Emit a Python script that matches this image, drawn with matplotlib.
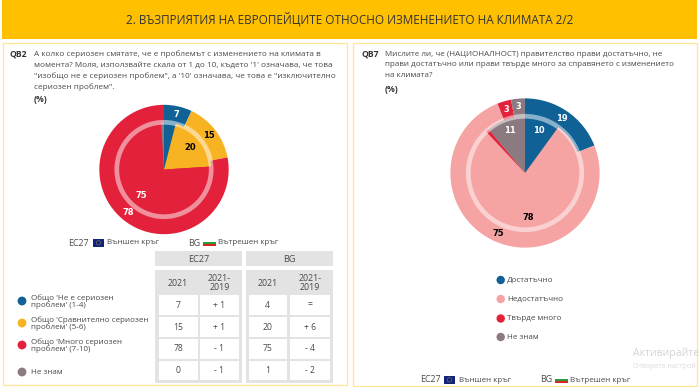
import matplotlib
matplotlib.use('Agg')
import matplotlib.pyplot as plt
from matplotlib.patches import Rectangle, Circle

plt.rcParams['font.family'] = ['Open Sans', 'DejaVu Sans']

W, H = 700, 387
BLUE, YELLOW, RED, GREY, PINK = '#0F6196', '#F8B323', '#E3213B', '#8B7B80', '#F5A3A3'
TEXT = '#4A4A4A'

# QB2 data
qb2_colors = [BLUE, YELLOW, RED, GREY]
qb2_outer = [7, 15, 78, 0]
qb2_inner = [4, 20, 75, 1]
qb2_outer_text = ['white', 'black', 'white', 'white']
qb2_inner_text = ['white', 'black', 'white', 'white']

# QB7 data
qb7_colors = [BLUE, PINK, RED, GREY]
qb7_outer = [19, 75, 3, 3]
qb7_inner = [10, 78, 1, 11]
qb7_outer_text = ['white', 'black', 'white', 'white']
qb7_inner_text = ['white', 'black', 'white', 'white']

# table
table_groups = ['EC27', 'BG']
table_headers = ['2021', '2021-\n2019']
ec_2021 = ['7', '15', '78', '0']
ec_diff = ['+ 1', '+ 1', '- 1', '- 1']
bg_2021 = ['4', '20', '75', '1']
bg_diff = ['=', '+ 6', '- 4', '- 2']

title = '2. ВЪЗПРИЯТИЯ НА ЕВРОПЕЙЦИТЕ ОТНОСНО ИЗМЕНЕНИЕТО НА КЛИМАТА 2/2'
qb2_lines = ['А колко сериозен смятате, че е проблемът с изменението на климата в',
             'момента? Моля, използвайте скала от 1 до 10, където \'1\' означава, че това',
             '"изобщо не е сериозен проблем", а \'10\' означава, че това е "изключително',
             'сериозен проблем".']
qb7_lines = ['Мислите ли, че (НАЦИОНАЛНОСТ) правителство прави достатъчно, не',
             'прави достатъчно или прави твърде много за справянето с изменението',
             'на климата?']
qb2_legend = ["Общо 'Не е сериозен\nпроблем' (1-4)", "Общо 'Сравнително сериозен\nпроблем' (5-6)",
              "Общо 'Много сериозен\nпроблем' (7-10)", 'Не знам']
qb7_legend = ['Достатъчно', 'Недостатъчно', 'Твърде много', 'Не знам']

fig = plt.figure(figsize=(W / 100, H / 100), dpi=100, facecolor='white')
page = fig.add_axes([0, 0, 1, 1])  # pixel coordinates, y goes down
page.set_xlim(0, W)
page.set_ylim(H, 0)
page.axis('off')


def box(x0, y0, x1, y1, **kw):
    page.add_patch(Rectangle((x0, y0), x1 - x0, y1 - y0, **kw))


def label(x, y, s, size=6, color=TEXT, ha='left', **kw):
    page.text(x, y, s, fontsize=size, color=color, ha=ha, va='center', **kw)


def nested_pie(cx, cy, R, outer, inner, colors, outer_text, inner_text, r_in, d_out, d_in, ring_w):
    ax = fig.add_axes([(cx - R) / W, 1 - (cy + R) / H, 2 * R / W, 2 * R / H])
    fmt = lambda p: f'{p:.0f}' if p >= 3 and p != 4 else ''
    for vals, rad, dist, tcol in ((outer, 1, d_out, outer_text), (inner, r_in, d_in, inner_text)):
        wedges, _, auto = ax.pie(vals, radius=rad, colors=colors, startangle=90, counterclock=False,
                                 autopct=fmt, pctdistance=dist, frame=True)
        for a, c in zip(auto, tcol):
            a.set_color(c)
            a.set_fontsize(6)
            a.set_fontweight('bold')
            a.set_family('DejaVu Sans')
    ax.set_xlim(-1.005, 1.005)
    ax.set_ylim(-1.005, 1.005)
    ax.axis('off')
    ax.add_patch(Circle((0, 0), r_in, fill=False, ec=(1, 1, 1, 0.5), lw=ring_w))


def flags(y, x_lab, x_eu, x_in, x_bg, x_flag, x_bg_text):
    label(x_lab, y, 'EC27', size=6.4)
    box(x_eu, y - 4, x_eu + 11, y + 3.5, fc='#12237A', ec='none')
    page.add_patch(Circle((x_eu + 5.5, y - 0.2), 2.2, fill=False, ec='#7F7F50', lw=0.4))  # stars
    label(x_in, y, 'Външен кръг', size=5.8)
    label(x_bg, y, 'BG', size=6.4)
    box(x_flag, y - 3, x_flag + 13, y - 0.8, fc='white', ec='none')
    box(x_flag, y - 0.8, x_flag + 13, y + 1.2, fc='#2A9A3C', ec='none')
    box(x_flag, y + 1.2, x_flag + 13, y + 3.2, fc='#D9261C', ec='none')
    label(x_bg_text, y, 'Вътрешен кръг', size=5.8)


# header and panels
box(2, 0, 697, 39, fc='#FFC000', ec='none')
label(350, 19, title, size=8.5, color='#333333', ha='center')
box(2.5, 43, 347, 385, fc='white', ec='#FFE69A', lw=1)
box(353, 43, 697, 385.5, fc='white', ec='#FFE69A', lw=1)

# QB2 text
label(9, 54, 'QB2', size=6.2, weight='bold', color='#333333')
for i, line in enumerate(qb2_lines):
    label(34, 54 + i * 10.9, line, size=5.87)
label(34, 99, '(%)', size=6.2, weight='bold', color='#333333')

# QB7 text
label(361, 54, 'QB7', size=6.2, weight='bold', color='#333333')
for i, line in enumerate(qb7_lines):
    label(385, 54 + i * 10.9, line, size=5.8)
label(385, 89, '(%)', size=6.2, weight='bold', color='#333333')

# pies
nested_pie(164, 169.5, 65, qb2_outer, qb2_inner, qb2_colors, qb2_outer_text, qb2_inner_text, 0.73, 0.87, 0.73, 3.4)
nested_pie(525, 173, 75, qb7_outer, qb7_inner, qb7_colors, qb7_outer_text, qb7_inner_text, 0.76, 0.89, 0.79, 3.4)

flags(243, 68, 93, 107, 188, 203, 218)
flags(380, 420, 444, 459, 540, 555, 570)

# QB2 legend
for y, s, c in zip([301, 323, 345, 372], qb2_legend, qb2_colors):
    page.add_patch(Circle((22, y), 4.4, fc=c, ec='none'))
    label(31, y + 0.5, s, size=5.8, linespacing=0.95)

# QB7 legend
for y, s, c in zip([280, 299, 318.5, 337], qb7_legend, qb7_colors):
    page.add_patch(Circle((500.7, y), 4.2, fc=c, ec='none'))
    label(507, y + 0.5, s, size=5.8)

# table
rows = [(295, 315), (317, 337), (338.5, 359), (360.5, 380)]
cols = [(158.5, 198), (200, 239), (248.5, 287), (290, 330)]
cells = [ec_2021, ec_diff, bg_2021, bg_diff]
for (x0, x1), name in zip([(155, 242), (246, 333)], table_groups):
    box(x0, 251, x1, 266, fc='#E3E3E3', ec='none')
    box(x0, 270, x1, 383, fc='#E3E3E3', ec='none')
    label((x0 + x1) / 2, 259, name, size=6.6, ha='center')
for j, ((x0, x1), vals) in enumerate(zip(cols, cells)):
    label((x0 + x1) / 2, 283, table_headers[j % 2], size=6.4, ha='center', linespacing=1.05)
    for (y0, y1), v in zip(rows, vals):
        box(x0, y0, x1, y1, fc='white', ec='none')
        label((x0 + x1) / 2, (y0 + y1) / 2, v, size=6.2, ha='center')

# activation watermark from the screenshot
page.text(633, 353, 'Активирайте', fontsize=7.6, color='#D4D4D4', va='center', clip_on=True)
page.text(633, 366, 'Отворете настрой', fontsize=5, color='#DCDCDC', va='center', clip_on=True)

fig.savefig('out.png', dpi=100)
